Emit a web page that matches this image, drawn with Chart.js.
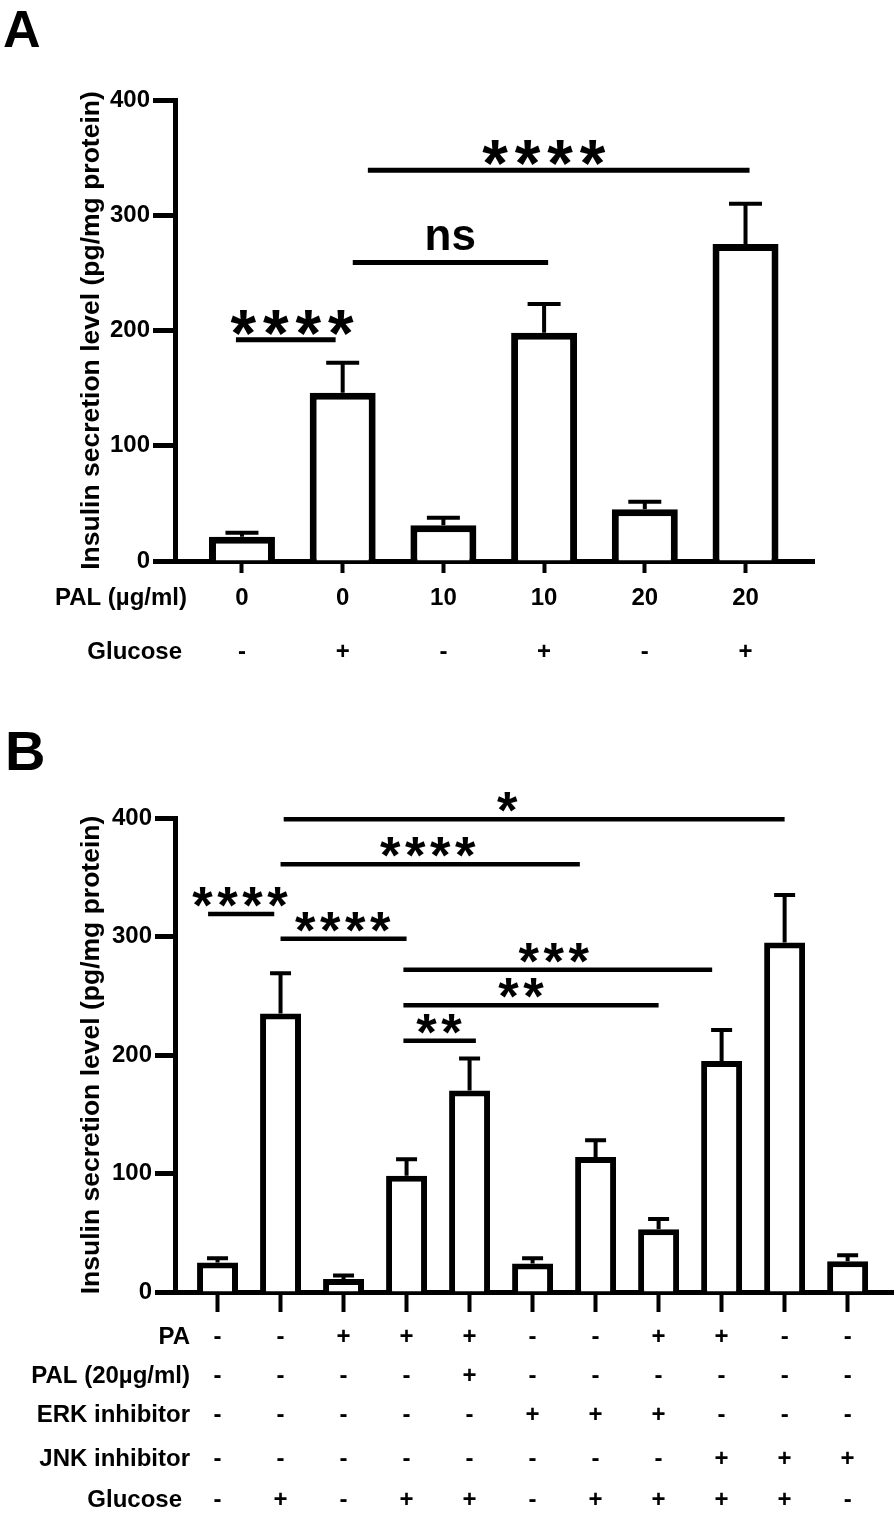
<!DOCTYPE html>
<html>
<head>
<meta charset="utf-8">
<script src="https://cdn.jsdelivr.net/npm/chart.js@4.4.1/dist/chart.umd.min.js"></script>
<style>
  html, body { margin: 0; padding: 0; background: #fff; }
  #wrap { position: relative; width: 896px; height: 1514px; }
  canvas { position: absolute; left: 0; }
</style>
</head>
<body>
<div id="wrap">
  <canvas id="chartA" width="896" height="700" style="top:0"></canvas>
  <canvas id="chartB" width="896" height="814" style="top:700px"></canvas>
</div>
<script>
// ---- panel A data ----
const palA = ['0', '0', '10', '10', '20', '20'];
const glucoseA = ['-', '+', '-', '+', '-', '+'];
const meanA = [21, 146, 31, 198, 45, 275];
const errA = [3.5, 26, 6.5, 25, 6.5, 35];
// significance brackets: from / to bar index, height in pg/mg, label, label centre
const sigFromA = [-0.06, 1.1, 1.25];
const sigToA = [0.93, 3.04, 5.04];
const sigLevelA = [192, 259, 339];
const sigTextA = ['****', 'ns', '****'];
const sigAtA = [0.5, 2.07, 3.0];

// ---- panel B data ----
const paB =      ['-', '-', '+', '+', '+', '-', '-', '+', '+', '-', '-'];
const palB =     ['-', '-', '-', '-', '+', '-', '-', '-', '-', '-', '-'];
const erkB =     ['-', '-', '-', '-', '-', '+', '+', '+', '-', '-', '-'];
const jnkB =     ['-', '-', '-', '-', '-', '-', '-', '-', '+', '+', '+'];
const glucoseB = ['-', '+', '-', '+', '+', '-', '+', '+', '+', '+', '-'];
const meanB = [25, 235, 11, 98, 170, 24, 114, 53, 195, 295, 26];
const errB = [3.5, 34, 3, 14, 27, 4.5, 14, 8.5, 26, 40, 5];
const sigFromB = [1.05, 1.0, -0.15, 1.0, 2.95, 2.95, 2.95];
const sigToB = [9.0, 5.75, 0.9, 3.0, 7.85, 7.0, 4.1];
const sigLevelB = [399, 361, 319, 298, 272, 242, 212];
const sigTextB = ['*', '****', '****', '****', '***', '**', '**'];
const sigAtB = [4.6, 3.34, 0.36, 1.99, 5.34, 4.82, 3.52];

const yTitle = 'Insulin secretion level (pg/mg protein)';
const FONT = "'Liberation Sans', Arial, Helvetica, sans-serif";

function drawGlyphs(ctx, text, cx, bottomY, size, pitch) {
  ctx.font = 'bold ' + size + 'px ' + FONT;
  ctx.textAlign = 'left';
  ctx.textBaseline = 'alphabetic';
  if (pitch) {
    const m = ctx.measureText('*');
    const base = bottomY - m.actualBoundingBoxDescent;
    const x0 = cx - (text.length - 1) * pitch / 2;
    for (let k = 0; k < text.length; k++) {
      const gx = x0 + k * pitch - (m.actualBoundingBoxRight - m.actualBoundingBoxLeft) / 2;
      ctx.fillText('*', gx, base);
    }
  } else {
    const m = ctx.measureText(text);
    ctx.fillText(text, cx - (m.actualBoundingBoxRight - m.actualBoundingBoxLeft) / 2, bottomY - m.actualBoundingBoxDescent);
  }
}

function starSize(ctx, height) {
  ctx.font = 'bold 100px ' + FONT;
  const m = ctx.measureText('*');
  return height / (m.actualBoundingBoxAscent + m.actualBoundingBoxDescent) * 100;
}

function panelPlugin(cfg) {
  return {
    id: 'panel' + cfg.letter,
    afterDatasetsDraw(chart) {
      const ctx = chart.ctx, y = chart.scales.y;
      const meta = chart.getDatasetMeta(0);
      ctx.save();
      ctx.strokeStyle = '#000';
      ctx.lineWidth = 4;
      meta.data.forEach((bar, i) => {
        const top = y.getPixelForValue(cfg.mean[i] + cfg.err[i]);
        ctx.beginPath();
        ctx.moveTo(bar.x, bar.y);
        ctx.lineTo(bar.x, top);
        ctx.moveTo(bar.x - cfg.cap, top);
        ctx.lineTo(bar.x + cfg.cap, top);
        ctx.stroke();
      });
      ctx.restore();
    },
    afterDraw(chart) {
      const ctx = chart.ctx, x = chart.scales.x, y = chart.scales.y;
      ctx.save();
      ctx.fillStyle = '#000';
      ctx.strokeStyle = '#000';
      // brackets
      const sSize = starSize(ctx, cfg.starH);
      cfg.sigFrom.forEach((f, i) => {
        const ly = y.getPixelForValue(cfg.sigLevel[i]);
        ctx.lineWidth = cfg.sigWidth;
        ctx.beginPath();
        ctx.moveTo(x.getPixelForValue(f), ly);
        ctx.lineTo(x.getPixelForValue(cfg.sigTo[i]), ly);
        ctx.stroke();
        const t = cfg.sigText[i];
        const cx = x.getPixelForValue(cfg.sigAt[i]);
        if (t.startsWith('*')) drawGlyphs(ctx, t, cx, ly - cfg.gap, sSize, cfg.pitch);
        else drawGlyphs(ctx, t, cx, ly - cfg.gap - 8, 44, 0);
      });
      // treatment table
      const axisY = chart.chartArea.bottom;
      ctx.font = 'bold ' + cfg.rowFont + 'px ' + FONT;
      ctx.textBaseline = 'middle';
      cfg.rows.forEach((row, r) => {
        const ry = axisY + cfg.rowOffsets[r];
        ctx.textAlign = 'right';
        ctx.fillText(row.label, cfg.labelRight[r], ry);
        ctx.textAlign = 'center';
        row.values.forEach((v, i) => ctx.fillText(v, x.getPixelForValue(i), ry));
      });
      // panel letter
      ctx.font = 'bold ' + cfg.letterSize + 'px ' + FONT;
      ctx.textAlign = 'left';
      ctx.textBaseline = 'alphabetic';
      ctx.fillText(cfg.letter, cfg.letterX, cfg.letterBase);
      ctx.restore();
    }
  };
}

function makeChart(id, cfg) {
  return new Chart(document.getElementById(id), {
    type: 'bar',
    data: {
      datasets: [{
        data: cfg.mean.map((v, i) => ({ x: i, y: v })),
        backgroundColor: '#fff',
        borderColor: '#000',
        borderWidth: cfg.barBorder,
        borderSkipped: 'start',
        barPercentage: cfg.barPct,
        categoryPercentage: 1
      }]
    },
    options: {
      responsive: false,
      animation: false,
      devicePixelRatio: 1,
      layout: { padding: { left: 0, top: cfg.top, right: cfg.right, bottom: 0 } },
      plugins: { legend: { display: false }, tooltip: { enabled: false } },
      scales: {
        x: {
          type: 'linear', min: cfg.xMin, max: cfg.xMax, offset: false, z: 1,
          border: { display: true, color: '#000', width: 5 },
          grid: { offset: false, drawOnChartArea: false, drawTicks: true, tickLength: cfg.xTick, tickWidth: 4, tickColor: '#000', color: '#000' },
          ticks: { display: false, stepSize: 1, includeBounds: false },
          afterFit: s => { s.height = cfg.height - cfg.bottomY; }
        },
        y: {
          min: 0, max: 400, z: 1,
          border: { display: true, color: '#000', width: 5 },
          grid: { drawOnChartArea: false, drawTicks: true, tickLength: cfg.yTick, tickWidth: 5, tickColor: '#000', color: '#000' },
          ticks: { stepSize: 100, color: '#000', padding: 3, font: { family: FONT, size: 24, weight: 'bold' } },
          title: { display: true, text: yTitle, color: '#000', padding: { top: 76, bottom: 0 }, font: { family: FONT, size: 26.5, weight: 'bold' } },
          afterFit: s => { s.width = 175; }
        }
      }
    },
    plugins: [panelPlugin(cfg)]
  });
}

makeChart('chartA', {
  letter: 'A', letterX: 3, letterBase: 47, letterSize: 52,
  mean: meanA, err: errA, cap: 16.5,
  sigFrom: sigFromA, sigTo: sigToA, sigLevel: sigLevelA, sigText: sigTextA, sigAt: sigAtA,
  starH: 25, pitch: 32.5, gap: 5, sigWidth: 5,
  rows: [{ label: 'PAL (\u00b5g/ml)', values: palA }, { label: 'Glucose', values: glucoseA }],
  rowOffsets: [37, 91], labelRight: [187, 182], rowFont: 24,
  barBorder: 7, barPct: 0.655,
  top: 100, right: 82, height: 700, bottomY: 561,
  xMin: -0.665, xMax: 5.68, xTick: 12, yTick: 22
});

makeChart('chartB', {
  letter: 'B', letterX: 5, letterBase: 70, letterSize: 56,
  mean: meanB, err: errB, cap: 10.5,
  sigFrom: sigFromB, sigTo: sigToB, sigLevel: sigLevelB, sigText: sigTextB, sigAt: sigAtB,
  starH: 20, pitch: 25, gap: 7, sigWidth: 4.5,
  rows: [
    { label: 'PA', values: paB },
    { label: 'PAL (20\u00b5g/ml)', values: palB },
    { label: 'ERK inhibitor', values: erkB },
    { label: 'JNK inhibitor', values: jnkB },
    { label: 'Glucose', values: glucoseB }
  ],
  rowOffsets: [45, 84, 123, 167, 208], labelRight: [190, 190, 190, 190, 182], rowFont: 24,
  barBorder: 6, barPct: 0.65,
  top: 118, right: 3, height: 814, bottomY: 592,
  xMin: -0.675, xMax: 10.72, xTick: 20, yTick: 20
});
</script>
</body>
</html>
